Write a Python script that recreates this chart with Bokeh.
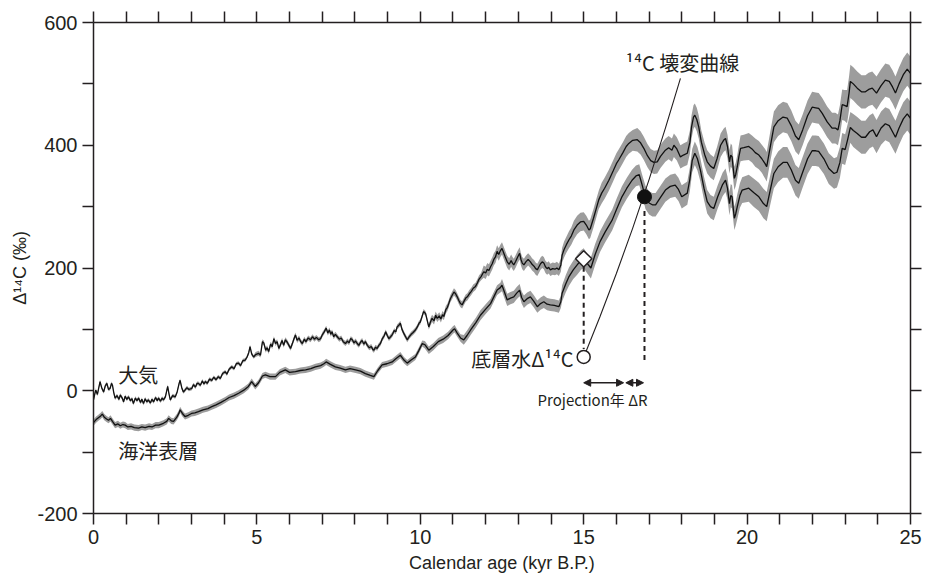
import numpy as np
from bokeh.plotting import figure
from bokeh.models import (ColumnDataSource, FixedTicker, LinearAxis, Range1d,
                          Arrow, NormalHead, Label)
from bokeh.embed import file_html
from bokeh.resources import INLINE

# ---------------- data ----------------
atm_age = [
    0.00, 0.04, 0.07, 0.12, 0.20, 0.25, 0.31, 0.36, 0.41, 0.46,
    0.51, 0.55, 0.58, 0.62, 0.66, 0.72, 0.78, 0.82, 0.88, 0.92,
    0.97, 1.02, 1.07, 1.13, 1.18, 1.22, 1.28, 1.33, 1.38, 1.44,
    1.48, 1.53, 1.58, 1.63, 1.68, 1.74, 1.79, 1.84, 1.90, 1.95,
    1.99, 2.05, 2.10, 2.14, 2.20, 2.27, 2.31, 2.35, 2.42, 2.50,
    2.56, 2.62, 2.65, 2.70, 2.75, 2.80, 2.86, 2.92, 3.01, 3.06,
    3.12, 3.17, 3.21, 3.27, 3.33, 3.38, 3.42, 3.48, 3.55, 3.62,
    3.68, 3.75, 3.82, 3.88, 3.95, 4.03, 4.08, 4.15, 4.23, 4.30,
    4.37, 4.44, 4.50, 4.57, 4.64, 4.70, 4.75, 4.79, 4.84, 4.90,
    4.96, 5.05, 5.11, 5.17, 5.21, 5.27, 5.31, 5.36, 5.42, 5.47,
    5.52, 5.57, 5.62, 5.67, 5.72, 5.77, 5.82, 5.87, 5.93, 5.98,
    6.03, 6.08, 6.13, 6.18, 6.23, 6.29, 6.34, 6.39, 6.45, 6.50,
    6.57, 6.64, 6.70, 6.76, 6.82, 6.89, 6.95, 7.01, 7.06, 7.12,
    7.17, 7.22, 7.26, 7.30, 7.35, 7.40, 7.46, 7.52, 7.58, 7.64,
    7.71, 7.77, 7.82, 7.87, 7.92, 7.97, 8.02, 8.07, 8.12, 8.17,
    8.22, 8.27, 8.32, 8.38, 8.44, 8.50, 8.55, 8.58, 8.63, 8.68,
    8.73, 8.78, 8.84, 8.90, 8.94, 8.99, 9.04, 9.09, 9.15, 9.20,
    9.25, 9.29, 9.35, 9.39, 9.44, 9.50, 9.55, 9.60, 9.66, 9.72,
    9.78, 9.85, 9.91, 9.96, 10.00, 10.06, 10.10, 10.16, 10.21, 10.26,
    10.31, 10.36, 10.42, 10.47, 10.52, 10.58, 10.63, 10.68, 10.72, 10.78,
    10.83, 10.87, 10.92, 10.98, 11.03, 11.08, 11.13, 11.18, 11.23, 11.28,
    11.34, 11.39, 11.44, 11.50, 11.56, 11.62, 11.69, 11.75, 11.80, 11.86,
    11.94, 12.00, 12.05, 12.10, 12.15, 12.20, 12.25, 12.30, 12.35, 12.40,
    12.45, 12.50, 12.55, 12.60, 12.66, 12.72, 12.78, 12.82, 12.86, 12.92,
    12.98, 13.04, 13.08, 13.12, 13.17, 13.23, 13.30, 13.37, 13.42, 13.48,
    13.53, 13.58, 13.63, 13.68, 13.73, 13.78, 13.83, 13.88, 13.93, 13.98,
    14.05, 14.12, 14.18, 14.24, 14.30, 14.34, 14.40, 14.47, 14.55, 14.62,
    14.70, 14.80, 14.90, 15.00, 15.08, 15.16, 15.20, 15.30, 15.38, 15.46,
    15.55, 15.64, 15.77, 15.90, 16.00, 16.07, 16.20, 16.30, 16.38, 16.50,
    16.64, 16.74, 16.84, 16.95, 17.05, 17.15, 17.25, 17.35, 17.50, 17.60,
    17.70, 17.76, 17.85, 17.96, 18.05, 18.17, 18.25, 18.30, 18.36, 18.40,
    18.46, 18.52, 18.60, 18.70, 18.78, 18.88, 18.98, 19.08, 19.19, 19.28,
    19.34, 19.40, 19.46, 19.50, 19.54, 19.58, 19.61, 19.65, 19.70, 19.75,
    19.80, 19.90, 20.05, 20.15, 20.25, 20.36, 20.45, 20.55, 20.60, 20.70,
    20.82, 20.95, 21.10, 21.23, 21.35, 21.48, 21.58, 21.70, 21.85, 21.99,
    22.10, 22.19, 22.30, 22.45, 22.60, 22.70, 22.78, 22.84, 22.91, 22.98,
    23.06, 23.12, 23.16, 23.25, 23.37, 23.50, 23.62, 23.72, 23.83, 23.96,
    24.10, 24.23, 24.35, 24.45, 24.54, 24.65, 24.78, 24.90, 25.00,
]
atm_d14c = [
    -15, -5, 1, -6, 15, 5, -2, 8, 12, 2,
    4, 12, 9, -3, -12, -8, -14, -7, -12, -18,
    -9, -14, -10, -16, -13, -21, -12, -16, -12, -19,
    -14, -21, -13, -18, -15, -20, -14, -18, -11, -16,
    -12, -17, -12, -15, -10, 7, -5, -15, -8, -10,
    -2, 12, 17, 5, -2, 1, 5, 2, 4, 10,
    6, 12, 12, 9, 16, 11, 15, 12, 19, 17,
    22, 18, 23, 20, 28, 31, 27, 35, 39, 36,
    44, 45, 41, 49, 50, 55, 62, 72, 60, 55,
    59, 61, 58, 80, 78, 66, 70, 64, 76, 72,
    85, 77, 80, 69, 75, 82, 74, 83, 79, 74,
    69, 76, 84, 91, 82, 86, 80, 77, 84, 80,
    86, 83, 88, 84, 87, 83, 85, 92, 96, 102,
    94, 99, 92, 96, 88, 92, 88, 84, 86, 80,
    77, 81, 78, 85, 83, 78, 81, 77, 74, 79,
    82, 76, 80, 74, 70, 72, 67, 66, 71, 69,
    74, 77, 85, 90, 96, 90, 85, 88, 92, 98,
    96, 104, 107, 110, 100, 93, 88, 83, 88, 92,
    95, 99, 104, 110, 112, 122, 129, 126, 115, 104,
    112, 118, 114, 123, 118, 122, 117, 124, 121, 132,
    136, 142, 150, 156, 161, 158, 153, 147, 142, 140,
    146, 151, 153, 158, 162, 167, 170, 176, 182, 186,
    194, 192, 198, 196, 202, 207, 214, 218, 227, 222,
    228, 232, 225, 218, 210, 206, 212, 208, 205, 211,
    218, 224, 214, 208, 205, 210, 214, 210, 206, 203,
    199, 197, 202, 207, 210, 208, 202, 199, 201, 197,
    199, 198, 200, 197, 205, 221, 230, 238, 246, 252,
    262, 270, 275, 276, 270, 262, 264, 281, 296, 311,
    322, 330, 343, 358, 370, 376, 388, 398, 403, 408,
    409, 404, 395, 383, 375, 372, 373, 382, 392, 396,
    392, 400, 394, 381, 384, 387, 405, 430, 446, 449,
    442, 430, 405, 385, 373, 366, 362, 378, 400, 408,
    411, 398, 373, 384, 381, 360, 346, 352, 365, 382,
    395, 396, 398, 394, 388, 384, 378, 370, 365, 395,
    430, 440, 446, 444, 432, 415, 409, 425, 448, 462,
    461, 460, 452, 438, 428, 428, 425, 440, 466, 465,
    463, 485, 504, 500, 493, 487, 487, 491, 493, 485,
    497, 506, 504, 495, 485, 500, 515, 524, 517,
]
atm_err = [
    3, 3, 3, 3, 3, 3, 3, 3, 3, 3,
    3, 3, 3, 3, 3, 3, 3, 3, 3, 3,
    3, 3, 3, 3, 3, 3, 3, 3, 3, 3,
    3, 3, 3, 3, 3, 3, 3, 3, 3, 3,
    3, 3, 3, 3, 3, 3, 3, 3, 3, 3,
    3, 3, 3, 3, 3, 3, 3, 3, 3, 3,
    3, 3, 3, 3, 3, 3, 3, 3, 3, 3,
    3, 3, 3, 3, 3, 3, 3, 3, 3, 3,
    3, 3, 3, 3, 3, 3, 3, 3, 3, 3,
    4, 4, 4, 4, 4, 4, 4, 4, 4, 4,
    4, 4, 4, 4, 4, 4, 4, 4, 4, 4,
    4, 4, 4, 4, 4, 4, 4, 4, 4, 4,
    4, 4, 4, 4, 4, 4, 4, 4, 4, 4,
    4, 4, 4, 4, 4, 4, 4, 4, 4, 4,
    4, 4, 4, 4, 4, 4, 4, 4, 4, 4,
    4, 4, 4, 4, 4, 4, 4, 4, 4, 4,
    4, 4, 4, 4, 4, 4, 4, 4, 4, 4,
    4, 4, 4, 4, 4, 4, 4, 4, 4, 4,
    4, 4, 4, 4, 4, 4, 4, 4, 4, 4,
    6, 6, 6, 6, 6, 6, 6, 6, 6, 6,
    6, 6, 6, 6, 6, 6, 6, 6, 6, 6,
    6, 6, 6, 6, 6, 6, 6, 6, 6, 6,
    10, 10, 10, 10, 10, 10, 10, 10, 10, 10,
    10, 10, 10, 10, 10, 10, 10, 10, 10, 10,
    10, 10, 10, 10, 10, 10, 10, 10, 10, 10,
    10, 10, 10, 10, 10, 10, 10, 10, 10, 10,
    10, 10, 10, 10, 11, 12, 13, 13, 14, 14,
    15, 15, 15, 15, 15, 15, 15, 15, 15, 15,
    17, 17, 17, 17, 17, 17, 17, 17, 17, 17,
    19, 19, 19, 19, 19, 19, 19, 19, 19, 19,
    19, 19, 19, 19, 19, 19, 19, 19, 19, 19,
    19, 19, 19, 19, 19, 19, 19, 19, 19, 19,
    19, 19, 19, 19, 19, 19, 19, 19, 19, 19,
    21, 21, 22, 22, 23, 23, 23, 24, 24, 24,
    25, 25, 25, 25, 25, 25, 25, 25, 25, 25,
    25, 25, 25, 25, 25, 25, 25, 25, 25, 25,
    27, 27, 27, 27, 27, 27, 27, 27, 27, 27,
    27, 27, 27, 27, 27, 27, 27, 27, 27,
]

ocean_age = [
    0.00, 0.08, 0.15, 0.22, 0.27, 0.33, 0.40, 0.46, 0.52, 0.58,
    0.66, 0.75, 0.82, 0.90, 0.97, 1.05, 1.15, 1.25, 1.38, 1.48,
    1.58, 1.70, 1.79, 1.90, 2.00, 2.14, 2.24, 2.30, 2.38, 2.45,
    2.55, 2.62, 2.65, 2.72, 2.80, 2.90, 3.00, 3.10, 3.21, 3.35,
    3.50, 3.62, 3.75, 3.90, 4.03, 4.15, 4.30, 4.44, 4.60, 4.74,
    4.84, 4.95, 5.05, 5.17, 5.26, 5.40, 5.57, 5.70, 5.87, 6.00,
    6.18, 6.33, 6.49, 6.65, 6.79, 6.95, 7.05, 7.12, 7.25, 7.40,
    7.55, 7.71, 7.85, 8.02, 8.17, 8.32, 8.47, 8.58, 8.70, 8.83,
    8.98, 9.14, 9.25, 9.39, 9.50, 9.60, 9.72, 9.85, 9.95, 10.06,
    10.14, 10.26, 10.40, 10.55, 10.70, 10.85, 11.00, 11.05, 11.13, 11.23,
    11.33, 11.43, 11.54, 11.70, 11.84, 12.00, 12.15, 12.25, 12.35, 12.45,
    12.50, 12.58, 12.66, 12.76, 12.86, 12.95, 13.04, 13.10, 13.17, 13.27,
    13.37, 13.47, 13.58, 13.68, 13.78, 13.88, 13.98, 14.10, 14.24, 14.30,
    14.34, 14.45, 14.55, 14.68, 14.80, 14.92, 15.00, 15.10, 15.22, 15.35,
    15.50, 15.65, 15.87, 16.00, 16.17, 16.32, 16.48, 16.60, 16.70, 16.80,
    16.89, 17.00, 17.10, 17.20, 17.35, 17.50, 17.65, 17.80, 17.90, 18.00,
    18.17, 18.25, 18.32, 18.40, 18.48, 18.57, 18.68, 18.78, 18.88, 18.98,
    19.10, 19.25, 19.34, 19.40, 19.46, 19.50, 19.54, 19.58, 19.61, 19.65,
    19.70, 19.78, 19.85, 20.05, 20.20, 20.36, 20.50, 20.60, 20.70, 20.82,
    20.95, 21.10, 21.23, 21.35, 21.48, 21.58, 21.70, 21.85, 21.99, 22.10,
    22.19, 22.35, 22.50, 22.66, 22.75, 22.84, 22.91, 23.00, 23.08, 23.16,
    23.25, 23.37, 23.50, 23.62, 23.75, 23.85, 23.96, 24.10, 24.23, 24.35,
    24.45, 24.54, 24.65, 24.78, 24.90, 25.00,
]
ocean_d14c = [
    -52, -47, -44, -41, -38, -43, -46, -48, -45, -50,
    -56, -54, -57, -55, -56, -59, -58, -60, -61, -59,
    -60, -58, -59, -56, -56, -53, -50, -45, -49, -50,
    -43, -36, -31, -37, -42, -40, -37, -36, -34, -31,
    -29, -26, -23, -19, -15, -11, -8, -4, 1, 7,
    15, 7, 13, 24, 26, 23, 23, 30, 34, 30,
    31, 33, 34, 36, 39, 41, 44, 47, 43, 39,
    37, 34, 36, 34, 32, 28, 25, 23, 33, 42,
    44, 47, 52, 58, 50, 45, 50, 55, 65, 77,
    75, 66, 72, 80, 84, 90, 99, 101, 94, 86,
    83, 90, 99, 111, 123, 133, 142, 153, 164, 168,
    172, 160, 148, 151, 153, 159, 164, 152, 145, 150,
    153, 146, 137, 142, 145, 141, 140, 139, 137, 145,
    159, 174, 186, 197, 205, 213, 216, 208, 200, 222,
    243, 258, 278, 295, 316, 330, 343, 350, 352, 333,
    315, 306, 303, 303, 315, 327, 333, 335, 328, 316,
    322, 345, 375, 387, 378, 360, 330, 308, 300, 297,
    316, 336, 343, 330, 305, 318, 316, 295, 281, 288,
    300, 318, 327, 330, 323, 316, 305, 300, 325, 354,
    365, 372, 372, 360, 343, 338, 356, 378, 391, 391,
    390, 378, 362, 354, 356, 372, 395, 393, 410, 429,
    424, 419, 413, 413, 422, 425, 414, 428, 435, 432,
    422, 413, 428, 443, 451, 444,
]
ocean_err = [
    5, 5, 5, 5, 5, 5, 5, 5, 5, 5,
    5, 5, 5, 5, 5, 5, 5, 5, 5, 5,
    5, 5, 5, 5, 5, 5, 5, 5, 5, 5,
    5, 5, 5, 5, 5, 5, 5, 5, 5, 5,
    5, 5, 5, 5, 5, 5, 5, 5, 5, 5,
    5, 5, 5, 5, 5, 5, 5, 5, 5, 5,
    5, 5, 5, 5, 5, 5, 5, 5, 5, 5,
    5, 5, 5, 5, 5, 5, 5, 5, 5, 5,
    5, 5, 5, 5, 5, 5, 5, 5, 5, 5,
    6, 6, 6, 6, 6, 6, 6, 6, 6, 6,
    8, 8, 8, 8, 8, 8, 8, 8, 8, 8,
    10, 10, 10, 10, 10, 10, 10, 10, 10, 10,
    10, 10, 10, 10, 10, 10, 10, 10, 10, 10,
    13, 14, 15, 15, 16, 16, 16, 16, 17, 17,
    17, 17, 17, 17, 17, 17, 17, 17, 17, 17,
    19, 19, 19, 19, 19, 19, 19, 19, 19, 19,
    19, 19, 19, 19, 19, 19, 19, 19, 19, 19,
    19, 19, 19, 19, 19, 19, 19, 19, 19, 19,
    20, 20, 21, 22, 23, 23, 24, 24, 24, 24,
    25, 25, 25, 25, 25, 25, 25, 25, 25, 25,
    25, 25, 25, 25, 25, 25, 25, 25, 25, 25,
    27, 27, 27, 27, 27, 27, 27, 27, 27, 27,
    27, 27, 27, 27, 27, 27,
]

# 14C decay curve from the bottom-water value
decay_age = [15.05, 15.5, 16.0, 16.5, 17.0, 17.5, 17.96]
decay_d14c = [61, 121, 191, 265, 344, 428, 509]

# marked points
bw_age, bw_d14c = 15.0, 55          # bottom water (open circle)
proj_age, proj_d14c = 15.0, 215     # projection onto surface ocean (diamond)
cal_age, cal_d14c = 16.86, 316      # intersection with decay curve (dot)
dash1_top, dash1_bottom = 202, 68
dash2_top, dash2_bottom = 293, 50
arrow_level = 13
arrow1_end = 16.22
arrow2_start = 16.29

x_major = [0, 5, 10, 15, 20, 25]
x_minor = [1, 2, 3, 4, 6, 7, 8, 9, 11, 12, 13, 14, 16, 17, 18, 19, 21, 22, 23, 24]
y_major = [-200, 0, 200, 400, 600]
y_minor = [-100, 100, 300, 500]
y_tick_labels = {-200: "-200", 0: "0", 200: "200", 400: "400", 600: "600"}

# ---------------- figure ----------------
INK = "#231f20"
BAND = "#9d9d9d"
LATIN = "Liberation Sans"
CJK = "Noto Sans CJK JP"

p = figure(width=925, height=581, x_range=Range1d(0, 25), y_range=Range1d(-200, 600),
           output_backend="svg", toolbar_location=None,
           min_border_left=93, min_border_right=15, min_border_top=22, min_border_bottom=68)
p.outline_line_color = None
p.grid.visible = False

top_axis = LinearAxis()
right_axis = LinearAxis()
p.add_layout(top_axis, "above")
p.add_layout(right_axis, "right")

p.below[0].ticker = FixedTicker(ticks=x_major, minor_ticks=x_minor)
p.left[0].ticker = FixedTicker(ticks=y_major, minor_ticks=y_minor)
p.left[0].major_label_overrides = y_tick_labels
# unlabelled frame axes: all ticks drawn as (equal-length) minor ticks
top_axis.ticker = FixedTicker(ticks=[], minor_ticks=sorted(x_major + x_minor))
right_axis.ticker = FixedTicker(ticks=[], minor_ticks=sorted(y_major + y_minor))

for ax in p.axis:
    ax.axis_line_color = INK
    ax.axis_line_width = 1.5
    ax.major_tick_line_color = INK
    ax.minor_tick_line_color = INK
    ax.major_tick_line_width = 1.5
    ax.minor_tick_line_width = 1.5
    ax.major_tick_out = 11
    ax.major_tick_in = 0
    ax.minor_tick_out = 11
    ax.minor_tick_in = 0
    ax.major_label_text_font = LATIN
    ax.major_label_text_font_size = "20px"
    ax.major_label_text_color = INK
    ax.axis_label_text_font = LATIN
    ax.axis_label_text_font_style = "normal"
    ax.axis_label_text_color = INK

p.below[0].axis_label = "Calendar age (kyr B.P.)"
p.below[0].axis_label_text_font_size = "18px"
p.below[0].major_label_standoff = 5
p.below[0].axis_label_standoff = 6
p.left[0].axis_label = "Δ¹⁴C (‰)"
p.left[0].axis_label_text_font_size = "18px"
p.left[0].major_label_standoff = 5
p.left[0].axis_label_standoff = 4

a_age = np.array(atm_age)
a_val = np.array(atm_d14c, dtype=float)
a_err = np.array(atm_err, dtype=float)
o_age = np.array(ocean_age)
o_val = np.array(ocean_d14c, dtype=float)
o_err = np.array(ocean_err, dtype=float)

atm_src = ColumnDataSource(dict(x=a_age, y=a_val, lo=a_val - a_err, hi=a_val + a_err))
oce_src = ColumnDataSource(dict(x=o_age, y=o_val, lo=o_val - o_err, hi=o_val + o_err))

p.varea(x="x", y1="lo", y2="hi", source=atm_src, fill_color=BAND)
p.varea(x="x", y1="lo", y2="hi", source=oce_src, fill_color=BAND)
p.line(x="x", y="y", source=atm_src, line_color="#111111", line_width=1.3)
p.line(x="x", y="y", source=oce_src, line_color="#111111", line_width=1.3)

# decay curve
p.line(x=decay_age, y=decay_d14c, line_color=INK, line_width=1.1)

# dashed verticals
p.segment(x0=[proj_age, cal_age], y0=[dash1_top, dash2_top],
          x1=[bw_age, cal_age], y1=[dash1_bottom, dash2_bottom],
          line_color=INK, line_width=2, line_dash="5 4")

# markers
p.scatter(x=[proj_age], y=[proj_d14c], marker="square", angle=np.pi / 4, size=11.5,
          fill_color="white", line_color=INK, line_width=1.5)
p.scatter(x=[bw_age], y=[bw_d14c], marker="circle", size=13,
          fill_color="white", line_color=INK, line_width=1.5)
p.scatter(x=[cal_age], y=[cal_d14c], marker="circle", size=14,
          fill_color="#111111", line_color="#111111")

# arrows
def head():
    return NormalHead(size=7, fill_color=INK, line_color=INK)

p.add_layout(Arrow(start=head(), end=head(), x_start=bw_age, y_start=arrow_level,
                   x_end=arrow1_end, y_end=arrow_level, line_color=INK, line_width=1.5))
p.add_layout(Arrow(start=head(), end=head(), x_start=arrow2_start, y_start=arrow_level,
                   x_end=cal_age - 0.03, y_end=arrow_level, line_color=INK, line_width=1.5))

# labels
def lab(x, y, text, size="20px", align="left", font=CJK):
    p.add_layout(Label(x=x, y=y, text=text, text_font=font, text_font_size=size,
                       text_color=INK, text_align=align, text_baseline="middle"))

lab(0.76, 27, "大気")
lab(0.76, -98, "海洋表層")
lab(14.69, 53, "底層水Δ¹⁴C", align="right")
lab(16.28, 535, "¹⁴C 壊変曲線")
lab(13.59, -14, "Projection年 ΔR", size="15px")

open("out.html", "w").write(file_html(p, INLINE))
